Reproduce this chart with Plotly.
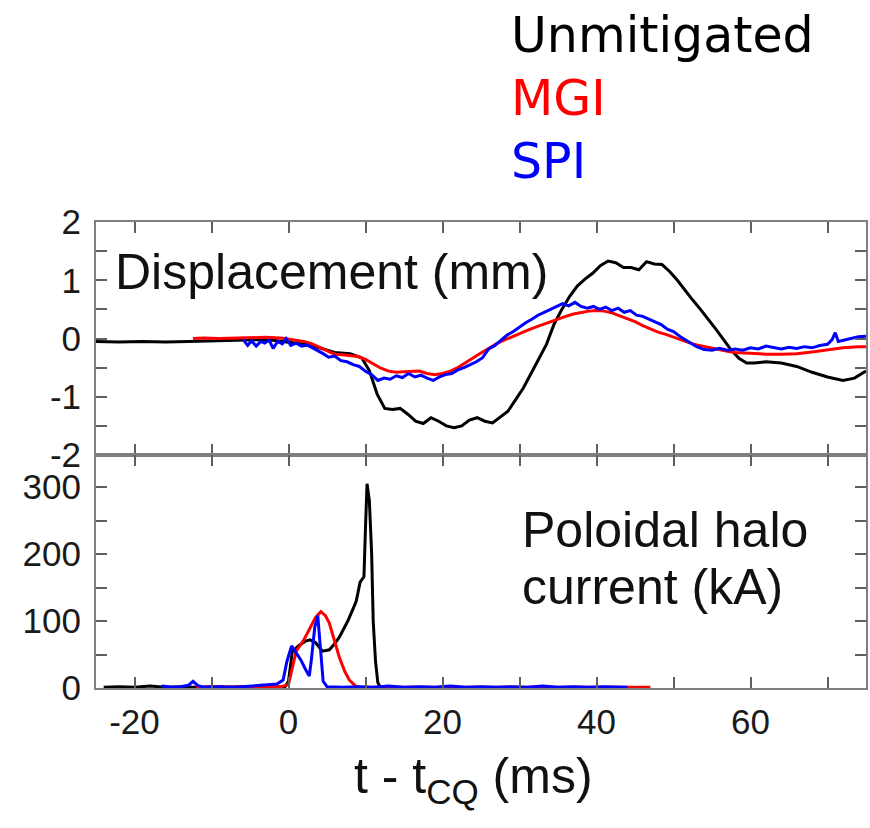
import plotly.graph_objects as go
from plotly.subplots import make_subplots

# ---------------- data ----------------
# Top panel: displacement (mm)
unm_disp_t = [-25, -22, -19, -16, -13, -10, -7, -4, -2, 0, 2, 4, 6, 8, 9.5, 10.5, 11.5, 12.5, 13.5, 14.5,
              15.5, 16.5, 17.5, 18.5, 19.5, 20.5, 21.5, 22.5, 23.5, 24.5, 25.5, 26.5, 27.5, 28.5, 29.5,
              30.5, 31.5, 32.5, 33.5, 34.5, 35.5, 36.5, 37.5, 38.5, 39.5, 40.5, 41.5, 42.5, 43.5, 44.5,
              45.5, 46.5, 47.5, 48.5, 49.5, 50.5, 51.5, 52.5, 53.5, 54.5, 55.5, 56.5, 57.5, 58.5, 59.5,
              60.5, 62, 64, 66, 68, 70, 72, 73.5, 75]
unm_disp_v = [-0.05, -0.06, -0.05, -0.06, -0.05, -0.04, -0.03, -0.02, -0.03, -0.06, -0.10, -0.16, -0.24,
              -0.26, -0.33, -0.55, -0.95, -1.20, -1.22, -1.20, -1.30, -1.42, -1.46, -1.36, -1.42, -1.50,
              -1.53, -1.50, -1.40, -1.36, -1.42, -1.45, -1.35, -1.25, -1.05, -0.85, -0.60, -0.35, -0.10,
              0.25, 0.50, 0.72, 0.90, 1.02, 1.12, 1.25, 1.33, 1.30, 1.22, 1.22, 1.18, 1.32, 1.28, 1.27,
              1.15, 1.00, 0.82, 0.66, 0.50, 0.34, 0.16, -0.02, -0.20, -0.34, -0.42, -0.42, -0.40, -0.42,
              -0.48, -0.58, -0.66, -0.72, -0.68, -0.56]

mgi_disp_t = [-12.4, -11, -9, -7, -5, -3, -1, 0, 1, 2, 3, 4, 5, 6, 7, 8, 9, 10, 11, 12, 13, 14, 15, 16, 17,
              18, 19, 20, 21, 22, 23, 24, 25, 26, 27, 28, 29, 30, 31, 32, 33, 34, 35, 36, 37, 38, 39, 40,
              41, 42, 43, 44, 45, 46, 47, 48, 49, 50, 51, 52, 53, 54, 55, 56, 57, 58, 60, 62, 64, 66, 68,
              70, 72, 74, 75]
mgi_disp_v = [0.00, 0.01, 0.00, 0.01, 0.02, 0.02, 0.01, -0.01, -0.02, -0.05, -0.09, -0.15, -0.22, -0.27,
              -0.28, -0.29, -0.31, -0.36, -0.44, -0.51, -0.56, -0.58, -0.57, -0.56, -0.56, -0.60, -0.62,
              -0.60, -0.56, -0.50, -0.41, -0.33, -0.25, -0.17, -0.09, -0.03, 0.03, 0.09, 0.14, 0.19, 0.24,
              0.29, 0.33, 0.38, 0.42, 0.45, 0.47, 0.48, 0.47, 0.44, 0.39, 0.34, 0.29, 0.22, 0.16, 0.11,
              0.07, 0.02, -0.02, -0.07, -0.11, -0.14, -0.17, -0.20, -0.22, -0.24, -0.26, -0.27, -0.27,
              -0.26, -0.23, -0.19, -0.16, -0.14, -0.14]

spi_disp_t = [-5.9, -5.3, -4.8, -4.2, -3.6, -3.1, -2.5, -2, -1.4, -0.8, -0.3, 0.3, 1, 1.7, 2.4, 3.1, 3.8,
              4.5, 5.2, 6, 6.8, 7.6, 8.4, 9.2, 10, 10.8, 11.6, 12.4, 13.2, 14, 14.8, 15.6, 16.4, 17.2, 18,
              18.8, 19.6, 20.4, 21.2, 22, 22.8, 23.6, 24.4, 25.2, 26, 26.8, 27.6, 28.4, 29.2, 30, 30.8,
              31.6, 32.4, 33.2, 34, 34.8, 35.6, 36.4, 37.2, 38, 38.8, 39.6, 40.4, 41.2, 42, 42.8, 43.6,
              44.4, 45.2, 46, 46.8, 47.6, 48.4, 49.2, 50, 51, 52, 53, 54, 55, 56, 57, 58, 59, 60, 61, 62,
              63, 64, 65, 66, 67, 68, 69, 70, 70.6, 71, 71.4, 72, 73, 74, 75]
spi_disp_v = [-0.02, -0.12, -0.04, -0.13, -0.05, -0.08, -0.03, -0.17, -0.05, -0.09, 0.00, -0.12, -0.08,
              -0.13, -0.11, -0.16, -0.20, -0.26, -0.32, -0.30, -0.38, -0.40, -0.45, -0.48, -0.56, -0.62,
              -0.72, -0.68, -0.70, -0.64, -0.67, -0.60, -0.66, -0.63, -0.68, -0.72, -0.66, -0.62, -0.60,
              -0.54, -0.50, -0.45, -0.40, -0.33, -0.18, -0.12, -0.03, 0.06, 0.12, 0.20, 0.27, 0.33, 0.40,
              0.45, 0.50, 0.55, 0.60, 0.56, 0.62, 0.55, 0.52, 0.55, 0.50, 0.54, 0.48, 0.52, 0.45, 0.48,
              0.40, 0.38, 0.33, 0.28, 0.24, 0.16, 0.12, 0.02, -0.06, -0.14, -0.19, -0.20, -0.17, -0.20,
              -0.18, -0.20, -0.16, -0.18, -0.13, -0.16, -0.18, -0.15, -0.17, -0.14, -0.16, -0.12, -0.10,
              -0.02, 0.10, -0.05, -0.03, 0.00, 0.03, 0.04]

# Bottom panel: poloidal halo current (kA)
unm_halo_t = [-24, -22, -20, -18, -16, -14, -12, -10, -8, -6, -4, -2, -0.5, 0, 0.5, 1.4, 2.2, 2.8, 3.5,
              4.4, 5.3, 6, 6.6, 7.2, 7.7, 8.3, 8.8, 9.3, 9.8, 10.0, 10.2, 10.5, 10.8, 11.0, 11.3, 11.6, 12]
unm_halo_v = [1, 2, 1, 3, 1, 2, 1, 2, 1, 2, 1, 2, 1, 10, 55, 64, 70, 72, 68, 55, 57, 66, 76, 88, 100, 116,
              130, 158, 166, 240, 305, 280, 200, 100, 40, 8, 0]

mgi_halo_t = [-12, -8, -4, -1, 0, 0.5, 1, 2, 2.7, 3.5, 4.2, 4.8, 5.3, 6, 6.6, 7.3, 7.9, 8.8, 10, 14, 20,
              26, 32, 38, 43, 47]
mgi_halo_v = [1, 1, 2, 2, 5, 30, 55, 72, 87, 105, 114, 108, 97, 70, 46, 25, 12, 2, 1, 1, 1, 2, 1, 2, 1, 1]

spi_halo_t = [-16.5, -15, -14, -13, -12.4, -11.8, -11, -9, -7, -5, -3, -1.5, -0.7, -0.2, 0.4, 1, 1.6,
              2.2, 2.7, 3.0, 3.4, 3.8, 4.1, 4.5, 5, 7, 9, 11, 13, 15, 17, 19, 21, 23, 25, 27, 29, 31, 33,
              35, 37, 39, 41, 43, 44]
spi_halo_v = [3, 1, 2, 4, 10, 4, 1, 2, 1, 3, 4, 6, 12, 40, 63, 52, 42, 28, 18, 45, 90, 108, 70, 10, 2, 1,
              2, 1, 3, 1, 2, 1, 3, 1, 2, 1, 2, 1, 3, 1, 2, 1, 2, 1, 1]

x_ticks = [-20, 0, 20, 40, 60]
x_ticks_all = [-20, -10, 0, 10, 20, 30, 40, 50, 60, 70]
disp_ticks_all = [-2, -1.5, -1, -0.5, 0, 0.5, 1, 1.5, 2]
disp_labels = ["-2", "", "-1", "", "0", "", "1", "", "2"]
halo_ticks_all = [0, 50, 100, 150, 200, 250, 300]
halo_labels = ["0", "", "100", "", "200", "", "300"]

series_names = ["Unmitigated", "MGI", "SPI"]
series_colors = ["#000000", "#ff0000", "#0000ff"]

# ---------------- figure ----------------
fig = make_subplots(rows=2, cols=1, shared_xaxes=True, vertical_spacing=0)

top = [(unm_disp_t, unm_disp_v), (mgi_disp_t, mgi_disp_v), (spi_disp_t, spi_disp_v)]
bot = [(unm_halo_t, unm_halo_v), (mgi_halo_t, mgi_halo_v), (spi_halo_t, spi_halo_v)]
for (t, v), name, col in zip(top, series_names, series_colors):
    fig.add_trace(go.Scatter(x=t, y=v, mode="lines", name=name,
                             line=dict(color=col, width=3), showlegend=False), row=1, col=1)
for (t, v), name, col in zip(bot, series_names, series_colors):
    fig.add_trace(go.Scatter(x=t, y=v, mode="lines", name=name,
                             line=dict(color=col, width=3), showlegend=False), row=2, col=1)

axis_common = dict(showline=True, linecolor="#7f7f7f", linewidth=2, mirror="ticks",
                   ticks="inside", ticklen=11, tickwidth=1.5, tickcolor="#5f5f5f",
                   showgrid=False, zeroline=False,
                   tickfont=dict(family="Liberation Sans, Arial, sans-serif", size=35, color="#1a1a1a"))

fig.update_xaxes(range=[-25, 75], tickvals=x_ticks_all,
                 ticktext=[str(v) if v in x_ticks else "" for v in x_ticks_all],
                 **axis_common)
fig.update_xaxes(showticklabels=False, row=1, col=1)
fig.update_xaxes(ticklabelstandoff=2, row=2, col=1)
fig.update_yaxes(range=[-2, 2], tickvals=disp_ticks_all, ticktext=disp_labels,
                 ticklabelstandoff=6, row=1, col=1, **axis_common)
fig.update_yaxes(range=[0, 348], tickvals=halo_ticks_all, ticktext=halo_labels,
                 ticklabelstandoff=6, row=2, col=1, **axis_common)

arial = "Liberation Sans, Arial, sans-serif"
gothic = "DejaVu Sans, sans-serif"
ann = [
    dict(text="Displacement (mm)", x=0.022, y=0.893, font=dict(family=arial, size=50, color="#111")),
    dict(text="Poloidal halo", x=0.550, y=0.339, font=dict(family=arial, size=50, color="#111")),
    dict(text="current (kA)", x=0.550, y=0.216, font=dict(family=arial, size=50, color="#111")),
]
legend_y = [1.401, 1.264, 1.129]
for name, col, yy in zip(series_names, series_colors, legend_y):
    ann.append(dict(text=name, x=0.536, y=yy, font=dict(family=gothic, size=49, color=col)))
for a in ann:
    fig.add_annotation(xref="paper", yref="paper", xanchor="left", yanchor="middle",
                       showarrow=False, **a)

fig.add_annotation(xref="paper", yref="paper", x=0.49, y=-0.125, xanchor="center", yanchor="top",
                   showarrow=False, text="t - t<sub>CQ</sub> (ms)",
                   font=dict(family=arial, size=50, color="#111"))

fig.update_layout(width=870, height=828, margin=dict(l=96, r=2, t=222, b=140),
                  paper_bgcolor="white", plot_bgcolor="white")

fig.write_html("out.html")
